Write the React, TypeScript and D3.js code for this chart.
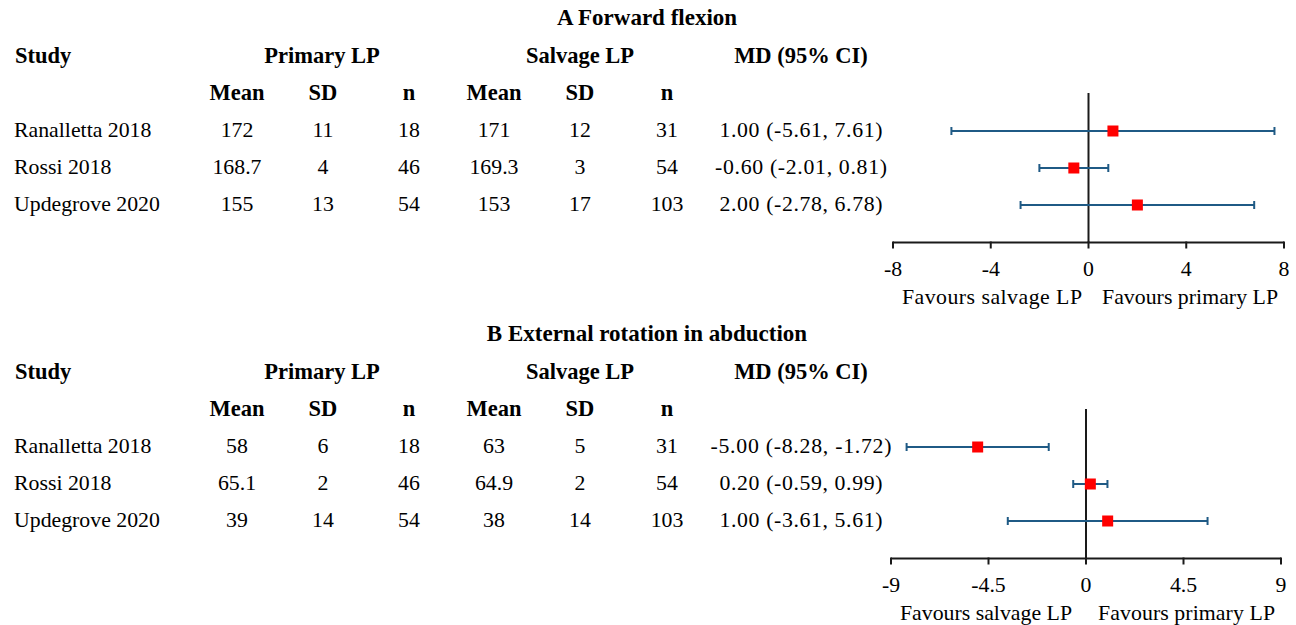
import React from "react";
import * as d3 from "d3";

// Study rows shared by both outcome panels
const studies = ["Ranalletta 2018", "Rossi 2018", "Updegrove 2020"];

// Panel A: forward flexion
const flexPrimaryMean = ["172", "168.7", "155"];
const flexPrimarySD = ["11", "4", "13"];
const flexPrimaryN = ["18", "46", "54"];
const flexSalvageMean = ["171", "169.3", "153"];
const flexSalvageSD = ["12", "3", "17"];
const flexSalvageN = ["31", "54", "103"];
const flexMD = [1.0, -0.6, 2.0];
const flexLower = [-5.61, -2.01, -2.78];
const flexUpper = [7.61, 0.81, 6.78];
const flexTicks = [-8, -4, 0, 4, 8];

// Panel B: external rotation in abduction
const erPrimaryMean = ["58", "65.1", "39"];
const erPrimarySD = ["6", "2", "14"];
const erPrimaryN = ["18", "46", "54"];
const erSalvageMean = ["63", "64.9", "38"];
const erSalvageSD = ["5", "2", "14"];
const erSalvageN = ["31", "54", "103"];
const erMD = [-5.0, 0.2, 1.0];
const erLower = [-8.28, -0.59, -3.61];
const erUpper = [-1.72, 0.99, 5.61];
const erTicks = [-9, -4.5, 0, 4.5, 9];

const FONT = "'Liberation Serif', 'Times New Roman', serif";
const CI_COLOR = "#1f5a85";
const AXIS_COLOR = "#1a1a1a";

const fmt = (v: number) => v.toFixed(2);

type PanelProps = {
  top: number;
  title: string;
  primaryMean: string[];
  primarySD: string[];
  primaryN: string[];
  salvageMean: string[];
  salvageSD: string[];
  salvageN: string[];
  md: number[];
  lower: number[];
  upper: number[];
  ticks: number[];
  xRange: [number, number];
  favoursLeft: string;
  favoursLeftWidth: number;
  favoursRightWidth: number;
  favoursLeftX: number;
  favoursRightX: number;
};

function Panel(p: PanelProps) {
  const dom: [number, number] = [p.ticks[0], p.ticks[p.ticks.length - 1]];
  const x = d3.scaleLinear().domain(dom).range(p.xRange);
  // text baselines for each study row
  const rowBase = d3.scalePoint<number>().domain([0, 1, 2]).range([p.top + 111.5, p.top + 185.5]);
  const markerY = (i: number) => (rowBase(i) as number) - 5.5;
  const axisY = p.top + 217.5;
  const lineTop = p.top + 68;
  const capH = 4;
  const box = 11;

  const cols = [
    { x: 237, vals: p.primaryMean },
    { x: 323, vals: p.primarySD },
    { x: 409, vals: p.primaryN },
    { x: 494, vals: p.salvageMean },
    { x: 580, vals: p.salvageSD },
    { x: 667, vals: p.salvageN },
  ];
  const subHeads = [
    { x: 237, t: "Mean" },
    { x: 323, t: "SD" },
    { x: 409, t: "n" },
    { x: 494, t: "Mean" },
    { x: 580, t: "SD" },
    { x: 667, t: "n" },
  ];

  return (
    <g fontFamily={FONT} fontSize={21.8} fill="#000">
      <text x={647} y={p.top} textAnchor="middle" fontWeight="bold" fontSize={23}>{p.title}</text>
      <g fontWeight="bold" fontSize={22.5}>
        <text x={15} y={p.top + 38}>Study</text>
        <text x={322} y={p.top + 38} textAnchor="middle">Primary LP</text>
        <text x={580} y={p.top + 38} textAnchor="middle">Salvage LP</text>
        <text x={801} y={p.top + 38} textAnchor="middle">MD (95% CI)</text>
        {subHeads.map((s, i) => (
          <text key={"sh" + i} x={s.x} y={p.top + 75} textAnchor="middle">{s.t}</text>
        ))}
      </g>
      {studies.map((s, i) => (
        <text key={"st" + i} x={14} y={rowBase(i)}>{s}</text>
      ))}
      {cols.map((c, ci) =>
        c.vals.map((v, i) => (
          <text key={`c${ci}-${i}`} x={c.x} y={rowBase(i)} textAnchor="middle">{v}</text>
        ))
      )}
      {p.md.map((m, i) => {
        const label = `${fmt(m)} (${fmt(p.lower[i])}, ${fmt(p.upper[i])})`;
        return (
          <text
            key={"md" + i}
            x={801}
            y={rowBase(i)}
            textAnchor="middle"
            textLength={label.length * 9.05}
            lengthAdjust="spacing"
          >
            {label}
          </text>
        );
      })}

      {/* null line and x axis */}
      <line x1={x(0)} x2={x(0)} y1={lineTop} y2={axisY} stroke={AXIS_COLOR} strokeWidth={2} />
      <line x1={p.xRange[0]} x2={p.xRange[1]} y1={axisY} y2={axisY} stroke={AXIS_COLOR} strokeWidth={2} />
      {p.ticks.map((t, i) => (
        <g key={"tk" + i}>
          <line x1={x(t)} x2={x(t)} y1={axisY - 1} y2={axisY + 6} stroke={AXIS_COLOR} strokeWidth={2} />
          <text x={x(t)} y={axisY + 33} textAnchor="middle">{String(t)}</text>
        </g>
      ))}

      {/* confidence intervals and point estimates */}
      {p.md.map((m, i) => {
        const y = markerY(i);
        return (
          <g key={"ci" + i}>
            <line x1={x(p.lower[i])} x2={x(p.upper[i])} y1={y} y2={y} stroke={CI_COLOR} strokeWidth={2} />
            <line x1={x(p.lower[i])} x2={x(p.lower[i])} y1={y - capH} y2={y + capH} stroke={CI_COLOR} strokeWidth={2} />
            <line x1={x(p.upper[i])} x2={x(p.upper[i])} y1={y - capH} y2={y + capH} stroke={CI_COLOR} strokeWidth={2} />
            <rect x={x(m) - box / 2} y={y - box / 2} width={box} height={box} fill="#ff0000" />
          </g>
        );
      })}

      <text x={p.favoursLeftX} y={axisY + 61} textLength={p.favoursLeftWidth} lengthAdjust="spacing">{p.favoursLeft}</text>
      <text x={p.favoursRightX} y={axisY + 61} textLength={p.favoursRightWidth} lengthAdjust="spacing">Favours primary LP</text>
    </g>
  );
}

export default function App() {
  return (
    <svg
      width={1296}
      height={625}
      style={{ position: "absolute", left: 0, top: 0, background: "#fff" }}
    >
      <rect width={1296} height={625} fill="#fff" />
      <Panel
        top={25}
        title="A Forward flexion"
        primaryMean={flexPrimaryMean}
        primarySD={flexPrimarySD}
        primaryN={flexPrimaryN}
        salvageMean={flexSalvageMean}
        salvageSD={flexSalvageSD}
        salvageN={flexSalvageN}
        md={flexMD}
        lower={flexLower}
        upper={flexUpper}
        ticks={flexTicks}
        xRange={[893, 1284]}
        favoursLeft="Favours  salvage LP"
        favoursLeftX={902}
        favoursLeftWidth={180}
        favoursRightX={1102}
        favoursRightWidth={176}
      />
      <Panel
        top={341}
        title="B External rotation in abduction"
        primaryMean={erPrimaryMean}
        primarySD={erPrimarySD}
        primaryN={erPrimaryN}
        salvageMean={erSalvageMean}
        salvageSD={erSalvageSD}
        salvageN={erSalvageN}
        md={erMD}
        lower={erLower}
        upper={erUpper}
        ticks={erTicks}
        xRange={[891, 1281]}
        favoursLeft="Favours salvage LP"
        favoursLeftX={900}
        favoursLeftWidth={172}
        favoursRightX={1098}
        favoursRightWidth={177}
      />
    </svg>
  );
}
